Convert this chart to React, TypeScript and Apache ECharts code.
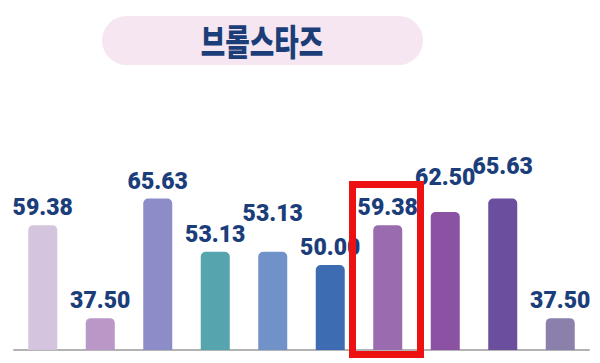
import React, { useEffect, useRef } from "react";
import * as echarts from "echarts";

const categories = ["1", "2", "3", "4", "5", "6", "7", "8", "9", "10"];
const values = [59.38, 37.5, 65.63, 53.13, 53.13, 50.0, 59.38, 62.5, 65.63, 37.5];
const barColors = [
  "#d4c4dd",
  "#b997c6",
  "#8c8cc9",
  "#55a4ae",
  "#7192c9",
  "#3e6cb2",
  "#9b6bb0",
  "#8b51a2",
  "#6b4e9e",
  "#8a80ab",
];
const labelLift = [0, 0, 0, 0, -21, 0, 0, -17, -15, 0];
const title = "브롤스타즈";

export default function App() {
  const ref = useRef<HTMLDivElement>(null);
  useEffect(() => {
    if (!ref.current) return;
    const chart = echarts.init(ref.current, null, { renderer: "svg" });
    chart.setOption({
      animation: false,
      backgroundColor: "#ffffff",
      grid: { left: 14, right: 11, top: 95, bottom: 13 },
      xAxis: {
        type: "category",
        data: categories,
        boundaryGap: true,
        axisLine: { show: true, lineStyle: { color: "#b3b3b3", width: 2 } },
        axisTick: { show: false },
        axisLabel: { show: false },
        splitLine: { show: false },
      },
      yAxis: {
        type: "value",
        min: 30,
        max: 90,
        show: false,
        splitLine: { show: false },
      },
      series: [
        {
          type: "bar",
          barWidth: 29,
          data: values.map((v, i) => ({
            value: v,
            itemStyle: { color: barColors[i], borderRadius: [5, 5, 0, 0] },
            label: { offset: [0, labelLift[i]] },
          })),
          label: {
            show: true,
            position: "top",
            distance: 6,
            formatter: (p: any) => Number(p.value).toFixed(2),
            color: "#1b3e7b",
            fontFamily: "Roboto",
            fontWeight: 900,
            fontSize: 23,
          },
        },
      ],
      graphic: [
        {
          type: "rect",
          left: 102,
          top: 16,
          shape: { width: 321, height: 49, r: 24.5 },
          style: { fill: "#f6e6f1" },
          z: 10,
        },
        {
          type: "text",
          x: 262,
          y: 40,
          scaleX: 0.74,
          style: {
            text: title,
            fill: "#1b3e78",
            font: "900 36px 'Noto Sans CJK KR'",
            textAlign: "center",
            textVerticalAlign: "middle",
          },
          z: 11,
        },
        {
          type: "rect",
          shape: { x: 352.5, y: 184.5, width: 68, height: 170 },
          style: { fill: "none", stroke: "#ee1111", lineWidth: 7 },
          z: 20,
        },
      ],
    });
    return () => chart.dispose();
  }, []);
  return (
    <div
      ref={ref}
      style={{ position: "fixed", left: 0, top: 0, width: 600, height: 363 }}
    />
  );
}
